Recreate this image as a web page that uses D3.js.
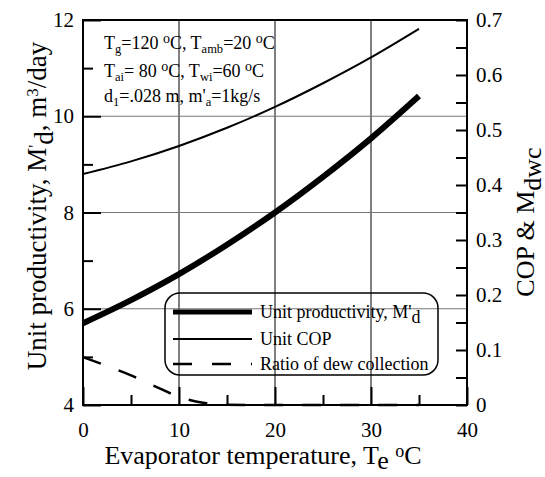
<!DOCTYPE html>
<html><head><meta charset="utf-8">
<script src="https://cdn.jsdelivr.net/npm/d3@7"></script>
<style>body{margin:0;background:#fff}svg{display:block}text{font-family:"Liberation Serif","Times New Roman",serif;fill:#000}</style>
</head><body>
<svg id="c" width="545" height="477"></svg>
<script>
// Data
const temps = [0, 5, 10, 15, 20, 25, 30, 35];
const productivity = [5.70, 6.18, 6.72, 7.33, 8.00, 8.74, 9.54, 10.42];
const cop = [0.420, 0.443, 0.471, 0.504, 0.542, 0.585, 0.632, 0.684];
const dewTemps = [0, 2.5, 5, 7.5, 10, 12.5, 15, 20, 25, 30, 35];
const dew = [0.087, 0.071, 0.054, 0.034, 0.015, 0.004, 0.0005, 0, 0, 0, 0];
const xTicks = [0, 10, 20, 30, 40];
const yLeftTicks = [4, 6, 8, 10, 12];
const yRightTicks = [0, 0.1, 0.2, 0.3, 0.4, 0.5, 0.6, 0.7];

const svg = d3.select("#c");
const L = 83, R = 467, T = 20, B = 405;
const x = d3.scaleLinear().domain([0, 40]).range([L, R]);
const yL = d3.scaleLinear().domain([4, 12]).range([B, T]);
const yR = d3.scaleLinear().domain([0, 0.7]).range([B, T]);

// gridlines
svg.append("g").selectAll("line").data([10, 20, 30]).join("line")
  .attr("x1", d => x(d)).attr("x2", d => x(d)).attr("y1", T).attr("y2", B)
  .attr("stroke", "#000").attr("stroke-width", 1);
svg.append("g").selectAll("line").data([6, 8, 10]).join("line")
  .attr("x1", L).attr("x2", R).attr("y1", d => yL(d)).attr("y2", d => yL(d))
  .attr("stroke", "#777").attr("stroke-width", 1.2);

const fs = "21px";
function styleAxis(g) {
  g.select(".domain").remove();
  g.selectAll("line").remove();
  g.selectAll("text").style("font-size", fs).style("font-family", '"Liberation Serif",serif');
}
// bottom ticks (inward)
svg.append("g").attr("transform", `translate(0,${B})`)
  .call(d3.axisBottom(x).tickValues(d3.range(0, 41, 5)).tickSize(0).tickFormat(""))
  .call(g => g.select(".domain").remove())
  .selectAll(".tick").append("line").attr("y1", 0)
  .attr("y2", d => d % 10 === 0 ? -18 : -10).attr("stroke", "#000").attr("stroke-width", 2);
svg.append("g").attr("transform", `translate(0,${B})`)
  .call(d3.axisBottom(x).tickValues(xTicks).tickSize(0).tickPadding(17).tickFormat(d3.format("d")))
  .call(styleAxis);
// left
svg.append("g").attr("transform", `translate(${L},0)`)
  .call(d3.axisLeft(yL).tickValues(d3.range(4, 12.01, 1)).tickSize(0).tickFormat(""))
  .call(g => g.select(".domain").remove())
  .selectAll(".tick").append("line").attr("x1", 0)
  .attr("x2", d => d % 2 === 0 ? 18 : 10).attr("stroke", "#000").attr("stroke-width", 2);
svg.append("g").attr("transform", `translate(${L},0)`)
  .call(d3.axisLeft(yL).tickValues(yLeftTicks).tickSize(0).tickPadding(9).tickFormat(d3.format("d")))
  .call(styleAxis);
// right
svg.append("g").attr("transform", `translate(${R},0)`)
  .call(d3.axisRight(yR).tickValues(d3.range(0, 0.701, 0.05)).tickSize(0).tickFormat(""))
  .call(g => g.select(".domain").remove())
  .selectAll(".tick").append("line").attr("x1", 0)
  .attr("x2", -11).attr("stroke", "#000").attr("stroke-width", 2);
svg.append("g").attr("transform", `translate(${R},0)`)
  .call(d3.axisRight(yR).tickValues(yRightTicks).tickSize(0).tickPadding(9)
    .tickFormat(d => d === 0 ? "0" : d3.format(".1f")(d)))
  .call(styleAxis);

// frame
svg.append("rect").attr("x", L).attr("y", T).attr("width", R - L).attr("height", B - T)
  .attr("fill", "none").attr("stroke", "#000").attr("stroke-width", 2);

// curves
const lineL = d3.line().x((d, i) => x(temps[i])).y(d => yL(d)).curve(d3.curveMonotoneX);
const lineR = d3.line().x((d, i) => x(temps[i])).y(d => yR(d)).curve(d3.curveMonotoneX);
const lineDew = d3.line().x((d, i) => x(dewTemps[i])).y(d => yR(d)).curve(d3.curveMonotoneX);
svg.append("path").attr("d", lineL(productivity)).attr("fill", "none").attr("stroke", "#000").attr("stroke-width", 6);
svg.append("path").attr("d", lineR(cop)).attr("fill", "none").attr("stroke", "#000").attr("stroke-width", 2);
svg.append("path").attr("d", lineDew(dew)).attr("fill", "none").attr("stroke", "#000").attr("stroke-width", 2.5)
  .attr("stroke-dasharray", "19,19");

// rich text helper
function rich(g, xx, yy, parts, subSize, supSize) {
  const t = g.append("text").attr("x", xx).attr("y", yy);
  parts.forEach(p => {
    const s = t.append("tspan").text(p[0]);
    if (p[1] === "sub") s.attr("baseline-shift", "-30%").style("font-size", subSize);
    if (p[1] === "sup") s.attr("baseline-shift", "40%").style("font-size", supSize);
  });
  return t;
}
// annotation
const ann = svg.append("g").style("font-size", "18px");
rich(ann, 104, 49, [["T"], ["g", "sub"], ["=120 "], ["o", "sup"], ["C, T"], ["amb", "sub"], ["=20 "], ["o", "sup"], ["C"]], "12.5px", "14px");
rich(ann, 104, 77, [["T"], ["ai", "sub"], ["= 80  "], ["o", "sup"], ["C, T"], ["wi", "sub"], ["=60 "], ["o", "sup"], ["C"]], "12.5px", "14px");
rich(ann, 104, 102, [["d"], ["1", "sub"], ["=.028 m, m'"], ["a", "sub"], ["=1kg/s"]], "12.5px", "14px");

// legend
const lg = svg.append("g");
lg.append("rect").attr("x", 165).attr("y", 293).attr("width", 273).attr("height", 82)
  .attr("rx", 15).attr("ry", 15).attr("fill", "none").attr("stroke", "#000").attr("stroke-width", 1.5);
const legItems = [
  {w: 5, dash: null, y: 312, label: [["Unit productivity, M'"], ["d", "sub"]]},
  {w: 2, dash: null, y: 339, label: [["Unit COP"]]},
  {w: 2.5, dash: "19,20", y: 364, label: [["Ratio of dew collection"]]}
];
legItems.forEach(it => {
  const l = lg.append("line").attr("x1", 173).attr("x2", 252).attr("y1", it.y).attr("y2", it.y)
    .attr("stroke", "#000").attr("stroke-width", it.w);
  if (it.dash) l.attr("stroke-dasharray", it.dash);
  rich(lg.append("g").style("font-size", "18px"), 260, it.y + 6, it.label, "18px", "14px");
});

// axis titles
const xt = svg.append("text").attr("x", 263).attr("y", 464).attr("text-anchor", "middle").style("font-size", "26px");
xt.append("tspan").text("Evaporator temperature, T");
xt.append("tspan").text("e").attr("baseline-shift", "-20%");
xt.append("tspan").text(" ");
xt.append("tspan").text("o").attr("baseline-shift", "40%").style("font-size", "18px");
xt.append("tspan").text("C");

const yt = svg.append("text").attr("transform", "translate(46,206) rotate(-90)").attr("text-anchor", "middle").style("font-size", "27px");
yt.append("tspan").text("Unit productivity, M");
yt.append("tspan").text("'").attr("baseline-shift", "40%").style("font-size", "16px");
yt.append("tspan").text("d").attr("baseline-shift", "-25%");
yt.append("tspan").text(", m");
yt.append("tspan").text("3").attr("baseline-shift", "45%").style("font-size", "17px");
yt.append("tspan").text("/day");

const rt = svg.append("text").attr("transform", "translate(534,222) rotate(-90)").attr("text-anchor", "middle").style("font-size", "26px");
rt.append("tspan").text("COP & M");
rt.append("tspan").text("dwc").attr("baseline-shift", "-25%");
</script>
</body></html>
